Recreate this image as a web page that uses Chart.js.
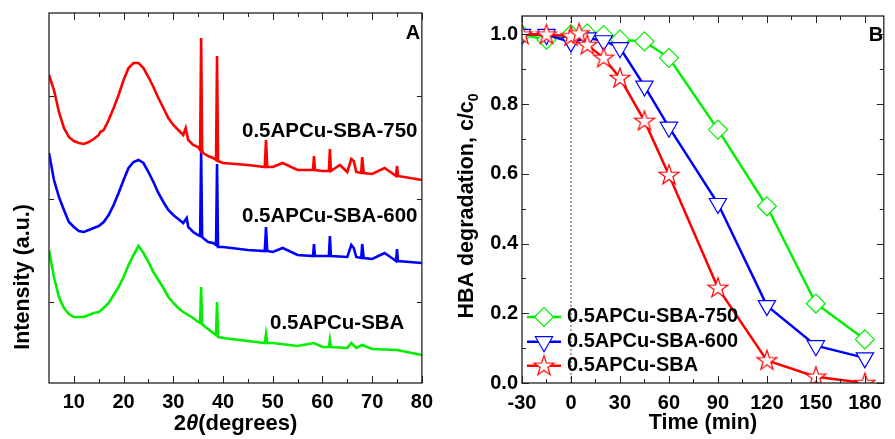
<!DOCTYPE html>
<html>
<head>
<meta charset="utf-8">
<script src="https://cdn.jsdelivr.net/npm/chart.js@4.4.1/dist/chart.umd.min.js"></script>
<style>
  html, body { margin: 0; padding: 0; background: #fff; }
  #wrap { position: relative; width: 895px; height: 439px; overflow: hidden; }
  #panelA { position: absolute; left: 0; top: 0; }
  #panelB { position: absolute; left: 440px; top: 0; }
</style>
</head>
<body>
<div id="wrap">
  <canvas id="panelA" width="440" height="439"></canvas>
  <canvas id="panelB" width="455" height="439"></canvas>
</div>
<script>
// ---- Panel A: XRD patterns (intensity in arbitrary units) ----
const twoThetaTicks = [10, 20, 30, 40, 50, 60, 70, 80];
const intensityTicks = [81, 184, 287];

const x750 = [5, 6, 7, 8, 9, 10, 11, 12, 13, 14, 15, 15.3, 16, 17, 18, 19, 20, 21, 22, 23, 24, 25, 26, 27, 28, 29, 30, 31, 32, 32.5, 33, 34, 35, 35.4, 35.6, 35.8, 36, 37, 38, 38.6, 38.8, 39.0, 40, 45, 48.4, 48.65, 48.9, 50, 52, 55, 58.1, 58.3, 58.5, 60, 61.3, 61.5, 61.7, 63.5, 65, 65.8, 66.3, 66.8, 67.8, 68, 68.3, 70, 72.5, 74.8, 75, 75.2, 80];
const i750 = [308, 293, 271, 255, 246, 242, 240, 239, 241, 244, 248, 251, 253, 263, 275, 288, 303, 315, 320, 320, 315, 306, 296, 285, 275, 265, 258, 253, 248, 255, 243, 238, 236, 233, 345, 233, 230, 227, 225, 223, 327, 222, 220, 218, 216, 243, 216, 216, 220, 213, 213, 227, 213, 212, 212, 234, 212, 218, 211, 224, 222, 211, 210, 226, 210, 209, 215, 207, 217, 207, 203];

const x600 = [5, 6, 7, 8, 9, 10, 11, 12, 13, 14, 15, 16, 17, 18, 19, 20, 21, 22, 23, 24, 25, 26, 27, 28, 29, 30, 31, 32, 32.7, 33, 34, 35, 35.4, 35.6, 35.8, 36, 37, 38, 38.6, 38.8, 39.0, 40, 45, 48.4, 48.65, 48.9, 50, 52, 55, 58.1, 58.3, 58.5, 61.3, 61.5, 61.7, 65, 65.8, 66.3, 66.8, 67.8, 68, 68.3, 70, 72.5, 74.8, 75, 75.2, 80];
const i600 = [230, 203, 186, 173, 161, 156, 152, 151, 153, 155, 157, 161, 168, 178, 190, 203, 215, 221, 223, 220, 211, 201, 190, 181, 173, 168, 164, 160, 165, 156, 151, 148, 147, 231, 146, 145, 141, 140, 138, 219, 136, 136, 133, 132, 156, 132, 131, 135, 128, 127, 139, 127, 127, 147, 127, 126, 138, 135, 126, 125, 139, 125, 124, 130, 122, 134, 122, 120];

const xSBA = [5, 6, 7, 8, 9, 10, 11, 12, 13, 14, 15, 16, 17, 18, 19, 20, 21, 22, 23, 24, 25, 26, 27, 28, 29, 30, 31, 32, 33, 34, 35, 35.4, 35.6, 35.8, 36, 37, 38, 38.6, 38.8, 39.0, 40, 45, 48.4, 48.65, 48.9, 50, 55, 58.3, 60, 61.3, 61.5, 61.7, 65, 65.8, 66.8, 68, 70, 75, 80];
const iSBA = [133, 106, 86, 75, 69, 66, 66, 66, 68, 70, 71, 75, 80, 88, 96, 106, 118, 128, 137, 130, 121, 111, 103, 95, 86, 80, 75, 71, 68, 65, 61, 60, 96, 59, 58, 54, 50, 48, 81, 46, 45, 42, 40, 49, 40, 40, 37, 40, 36, 36, 43, 36, 35, 40, 35, 38, 34, 33, 28];

const sampleNames = ['0.5APCu-SBA-750', '0.5APCu-SBA-600', '0.5APCu-SBA'];

// ---- Panel B: HBA degradation c/c0 vs time ----
const timeTicks = [-30, 0, 30, 60, 90, 120, 150, 180];
const ratioTicks = [0, 0.2, 0.4, 0.6, 0.8, 1.0];

const time750 = [-30, -15, 0, 10, 20, 30, 45, 60, 90, 120, 150, 180];
const ratio750 = [1.0, 0.985, 1.0, 1.003, 0.998, 0.985, 0.98, 0.933, 0.727, 0.507, 0.228, 0.125];

const time600 = [-30, -15, 0, 10, 20, 30, 45, 60, 90, 120, 150, 180];
const ratio600 = [1.0, 1.0, 0.978, 0.99, 0.982, 0.962, 0.852, 0.734, 0.515, 0.222, 0.107, 0.072];

const timeSBA = [-30, -15, 0, 5, 10, 20, 30, 45, 60, 90, 120, 150, 180];
const ratioSBA = [1.0, 1.0, 0.995, 1.003, 0.97, 0.933, 0.875, 0.752, 0.597, 0.273, 0.065, 0.018, 0.0];

const FONT = '"Liberation Sans", Arial, Helvetica, sans-serif';
const RED = '#ff0000', BLUE = '#0000ff', GREEN = '#00f000';

function toPoints(xs, ys) {
    return xs.map((x, i) => ({ x: x, y: ys[i] }));
}

function tickFont(size) {
    return { family: FONT, size: size, weight: 'bold' };
}

// hollow five-point star used as the point style for 0.5APCu-SBA
function starImage(color) {
    const c = document.createElement('canvas');
    c.width = 24;
    c.height = 24;
    const g = c.getContext('2d');
    g.beginPath();
    for (let k = 0; k < 10; k++) {
        const r = k % 2 ? 4.1 : 10.5;
        const a = -Math.PI / 2 + k * Math.PI / 5;
        g.lineTo(12 + r * Math.cos(a), 12.5 + r * Math.sin(a));
    }
    g.closePath();
    g.fillStyle = '#fff';
    g.fill();
    g.strokeStyle = color;
    g.lineWidth = 1.2;
    g.stroke();
    return c;
}

// write a run of text pieces (different fonts / offsets) centred on cx
function drawParts(ctx, parts, cx, baseline) {
    let total = 0;
    parts.forEach(p => { ctx.font = p.font; total += ctx.measureText(p.text).width; });
    let x = cx - total / 2;
    parts.forEach(p => {
        ctx.font = p.font;
        ctx.fillText(p.text, x, baseline + (p.dy || 0));
        x += ctx.measureText(p.text).width;
    });
}

// box round the plot with inward ticks on all four sides
const frame = {
    id: 'frame',
    afterDatasetsDraw(chart, args, opts) {
        const { ctx, chartArea: a, scales } = chart;
        const xs = scales.x, ys = scales.y;
        const mids = vals => vals.slice(1).map((v, i) => (v + vals[i]) / 2);
        ctx.save();
        ctx.strokeStyle = '#222';
        ctx.lineWidth = 1;
        ctx.beginPath();
        const xt = (v, len) => {
            const p = Math.round(xs.getPixelForValue(v)) + 0.5;
            ctx.moveTo(p, a.bottom); ctx.lineTo(p, a.bottom - len);
            ctx.moveTo(p, a.top); ctx.lineTo(p, a.top + len);
        };
        const yt = (v, len) => {
            const p = Math.round(ys.getPixelForValue(v)) + 0.5;
            ctx.moveTo(a.left, p); ctx.lineTo(a.left + len, p);
            ctx.moveTo(a.right, p); ctx.lineTo(a.right - len, p);
        };
        const xv = xs.ticks.map(t => t.value);
        const yv = ys.ticks.map(t => t.value);
        xv.forEach(v => xt(v, 7));
        mids(xv).forEach(v => xt(v, 4));
        yv.forEach(v => yt(v, opts.yMajor));
        if (opts.yMinor) mids(yv).forEach(v => yt(v, 4));
        ctx.stroke();
        ctx.lineWidth = 1.3;
        ctx.strokeRect(a.left, a.top, a.right - a.left, a.bottom - a.top);
        ctx.restore();
    }
};

// ---- Panel A ----
const textA = {
    id: 'textA',
    afterDraw(chart) {
        const { ctx, chartArea: a } = chart;
        ctx.save();
        ctx.fillStyle = '#000';
        ctx.textAlign = 'left';
        ctx.textBaseline = 'alphabetic';
        const bold = s => `bold ${s}px ${FONT}`;
        drawParts(ctx, [
            { text: '2', font: bold(22) },
            { text: '\u03b8', font: `italic bold 22px ${FONT}` },
            { text: '(degrees)', font: bold(22) }
        ], (a.left + a.right) / 2, 430);
        ctx.font = bold(20.5);
        ctx.fillText(sampleNames[0], 242, 137);
        ctx.fillText(sampleNames[1], 242, 222);
        ctx.fillText(sampleNames[2], 270, 329);
        ctx.textAlign = 'center';
        ctx.font = bold(20);
        ctx.fillText('A', 413, 38.5);
        ctx.translate(29, 204);
        ctx.rotate(-Math.PI / 2);
        drawParts(ctx, [{ text: 'Intensity (a.u.)', font: bold(21.5) }], 0, 0);
        ctx.restore();
    }
};

new Chart(document.getElementById('panelA'), {
    type: 'scatter',
    data: {
        datasets: [
            { data: toPoints(x750, i750), borderColor: RED },
            { data: toPoints(x600, i600), borderColor: BLUE },
            { data: toPoints(xSBA, iSBA), borderColor: GREEN }
        ].map(d => Object.assign(d, { showLine: true, borderWidth: 2.6, pointRadius: 0, tension: 0 }))
    },
    options: {
        responsive: false,
        animation: false,
        events: [],
        layout: { padding: { top: 13, right: 12.5, left: 0, bottom: 0 } },
        plugins: { legend: { display: false }, tooltip: { enabled: false }, frame: { yMajor: 5, yMinor: false } },
        scales: {
            x: {
                type: 'linear', min: 5, max: 80,
                grid: { display: false, drawTicks: false },
                border: { display: false },
                ticks: { font: tickFont(20), color: '#000', padding: 7, maxRotation: 0, autoSkip: false },
                afterBuildTicks: s => { s.ticks = twoThetaTicks.map(v => ({ value: v })); },
                afterFit: s => { s.height = 56; }
            },
            y: {
                type: 'linear', min: 0, max: 370,
                grid: { display: false, drawTicks: false },
                border: { display: false },
                ticks: { display: false },
                afterBuildTicks: s => { s.ticks = intensityTicks.map(v => ({ value: v })); },
                afterFit: s => { s.width = 49; }
            }
        }
    },
    plugins: [frame, textA]
});

// ---- Panel B ----
const star = starImage(RED);

const textB = {
    id: 'textB',
    afterDraw(chart) {
        const { ctx, chartArea: a } = chart;
        const bold = s => `bold ${s}px ${FONT}`;
        ctx.save();
        ctx.fillStyle = '#000';
        ctx.textAlign = 'left';
        ctx.textBaseline = 'alphabetic';
        drawParts(ctx, [{ text: 'Time (min)', font: bold(21.5) }], (a.left + a.right) / 2, 429);
        ctx.textAlign = 'center';
        ctx.font = bold(20);
        ctx.fillText('B', 436, 40.5);
        ctx.textAlign = 'left';

        // legend, drawn with each dataset's own style
        const rows = [0, 1, 2];
        const lineY = [317, 341.7, 365.7];
        rows.forEach(i => {
            const ds = chart.data.datasets[i];
            const y = lineY[i];
            ctx.strokeStyle = ds.borderColor;
            ctx.lineWidth = ds.borderWidth;
            ctx.beginPath();
            ctx.moveTo(87, y);
            ctx.lineTo(121, y);
            ctx.stroke();
            ctx.fillStyle = '#fff';
            ctx.lineWidth = ds.pointBorderWidth;
            Chart.helpers.drawPoint(ctx, {
                pointStyle: ds.pointStyle, radius: ds.pointRadius,
                rotation: ds.pointRotation || 0, borderWidth: ds.pointBorderWidth
            }, 104, y);
            ctx.fillStyle = '#000';
            ctx.font = bold(20);
            ctx.fillText(ds.label, 127, y + 5);
        });

        ctx.translate(32.5, 206);
        ctx.rotate(-Math.PI / 2);
        drawParts(ctx, [
            { text: 'HBA degradation, c/c', font: bold(21.5) },
            { text: '0', font: bold(14), dy: 5 }
        ], 0, 0);
        ctx.restore();
    }
};

new Chart(document.getElementById('panelB'), {
    type: 'scatter',
    data: {
        datasets: [
            {
                label: sampleNames[0], data: toPoints(time750, ratio750), order: 2,
                borderColor: GREEN, pointBorderColor: GREEN, pointStyle: 'rectRot', pointRadius: 9.5
            },
            {
                label: sampleNames[1], data: toPoints(time600, ratio600), order: 1,
                borderColor: BLUE, pointBorderColor: BLUE, pointStyle: 'triangle', pointRotation: 180, pointRadius: 10
            },
            {
                label: sampleNames[2], data: toPoints(timeSBA, ratioSBA), order: 0,
                borderColor: RED, pointBorderColor: RED, pointStyle: star, pointRadius: 10
            }
        ].map(d => Object.assign(d, {
            showLine: true, borderWidth: 2.5, tension: 0,
            pointBackgroundColor: '#fff', pointBorderWidth: 1.2
        })).concat([{
            // dotted marker at t = 0 (light switched on)
            label: 'start', data: [{ x: 0, y: 0 }, { x: 0, y: 1.1 }], order: 3,
            showLine: true, borderColor: '#444', borderWidth: 1, borderDash: [2, 2], pointRadius: 0
        }])
    },
    options: {
        responsive: false,
        animation: false,
        events: [],
        layout: { padding: { top: 13, right: 3, left: 0, bottom: 0 } },
        plugins: { legend: { display: false }, tooltip: { enabled: false }, frame: { yMajor: 7, yMinor: true } },
        scales: {
            x: {
                type: 'linear', min: -30, max: 191.6,
                grid: { display: false, drawTicks: false },
                border: { display: false },
                ticks: { font: tickFont(20), color: '#000', padding: 8, maxRotation: 0, autoSkip: false,
                         callback: v => String(v) },
                afterBuildTicks: s => { s.ticks = timeTicks.map(v => ({ value: v })); },
                afterFit: s => { s.height = 56; }
            },
            y: {
                type: 'linear', min: 0, max: 1.053,
                grid: { display: false, drawTicks: false },
                border: { display: false },
                ticks: { font: tickFont(20), color: '#000', padding: 4, autoSkip: false,
                         callback: v => v.toFixed(1) },
                afterBuildTicks: s => { s.ticks = ratioTicks.map(v => ({ value: v })); },
                afterFit: s => { s.width = 82; }
            }
        }
    },
    plugins: [frame, textB]
});
</script>
</body>
</html>
